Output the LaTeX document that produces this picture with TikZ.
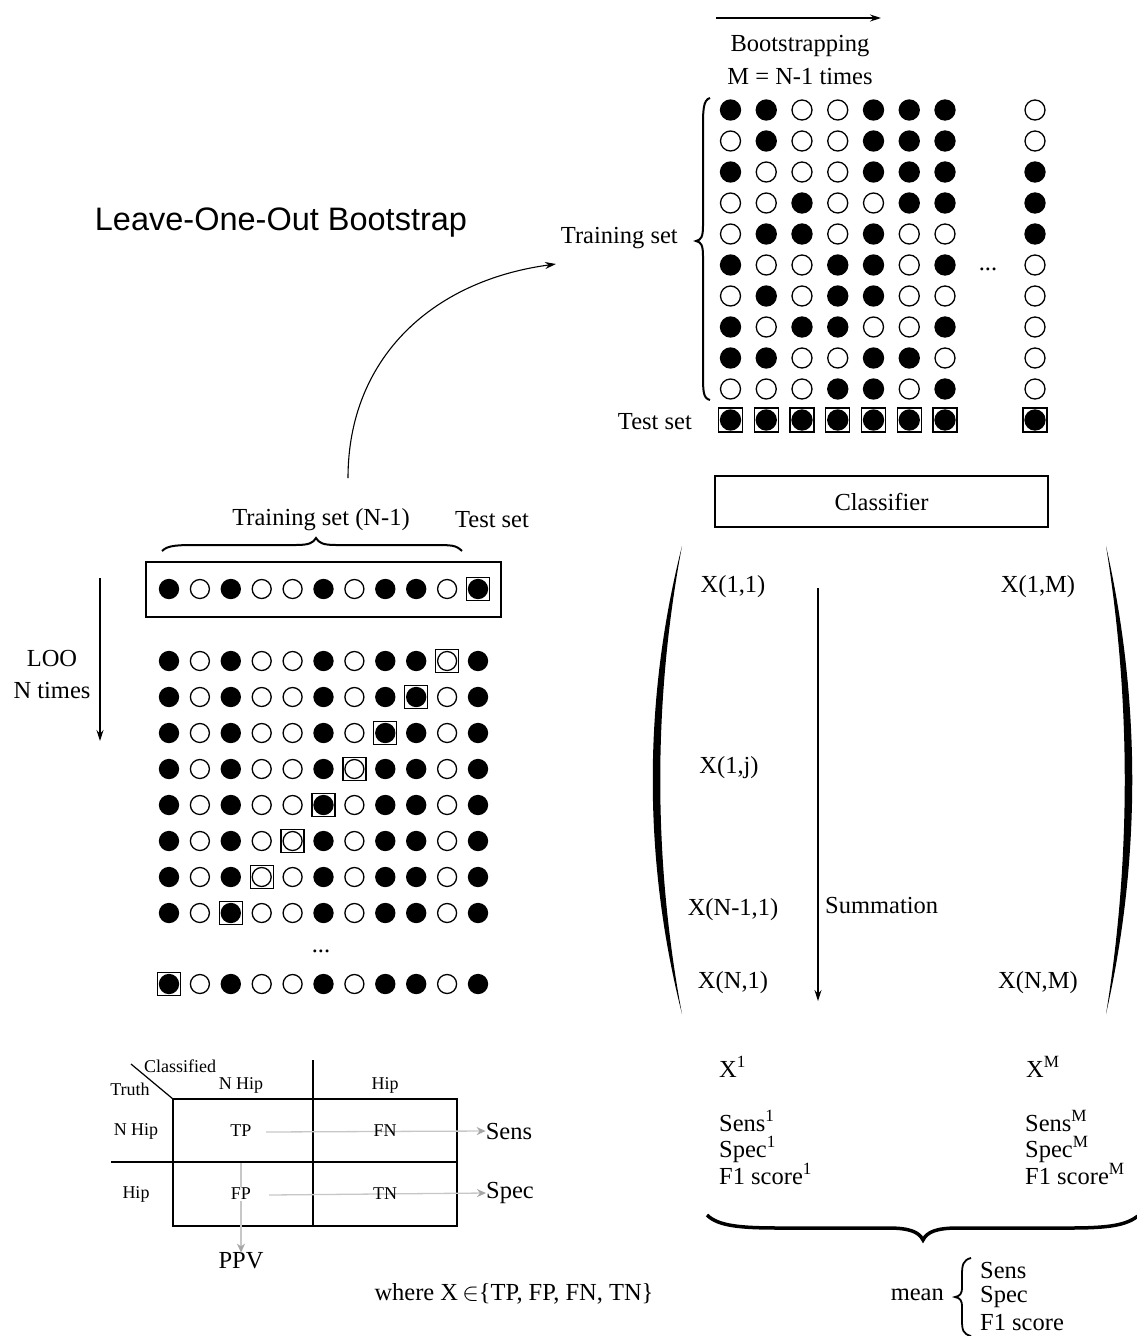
\documentclass[tikz,border=0pt]{standalone}
\usepackage{fontspec}
\setmainfont{Liberation Serif}
\newfontfamily\titlefont{Liberation Sans}
\usetikzlibrary{arrows.meta}
\begin{document}
\begin{tikzpicture}[x=1pt,y=-1pt,
  every node/.style={inner sep=0pt, font=\fontsize{24.5}{28}\selectfont},
  small/.style={font=\fontsize{18}{20}\selectfont},
  dotF/.style={circle, draw, fill=black, minimum size=20pt, line width=1.3pt},
  dotO/.style={circle, draw, fill=white, minimum size=20pt, line width=1.3pt},
  ldotF/.style={circle, draw, fill=black, minimum size=19pt, line width=1.3pt},
  ldotO/.style={circle, draw, fill=white, minimum size=19pt, line width=1.3pt},
  sqbox/.style={rectangle, draw, minimum size=24pt, line width=1.3pt},
  lsqbox/.style={rectangle, draw, minimum size=23pt, line width=1.3pt},
  arr/.style={line width=1.1pt, -{Stealth[length=11pt,width=7pt]}},
  grayarr/.style={draw=black!22, line width=1.3pt, -{Stealth[length=9pt,width=8pt,color=black!35]}},
  tline/.style={line width=1.4pt},
  bracepath/.style={line width=2pt},
]
\useasboundingbox (0,0) rectangle (1136,1336);

% ---------- Title ----------
\node (title) at (281,223) {\titlefont\fontsize{32.5}{36}\selectfont Leave-One-Out Bootstrap};

% ---------- Bootstrapping part ----------
\coordinate (ba1) at (716,18);
\coordinate (ba2) at (881,18);
\draw[arr] (ba1) -- (ba2);
\node (boot) at (800,46) {Bootstrapping};
\node (mtimes) at (800,77) {M = N-1 times};
\node[anchor=east] (trainB) at (678,238) {Training set};
\node[anchor=east] (testB) at (692,422) {Test set};

\draw[bracepath] (710,98) .. controls (703,100) and (703,110) .. (703,130) -- (703,226)
  .. controls (703,237) and (701,240) .. (696,241) .. controls (701,242) and (703,245) .. (703,256)
  -- (703,372) .. controls (703,392) and (703,398) .. (710,400);

\foreach \row [count=\r] in {
  {1,1,0,0,1,1,1,0},
  {0,1,0,0,1,1,1,0},
  {1,0,0,0,1,1,1,1},
  {0,0,1,0,0,1,1,1},
  {0,1,1,0,1,0,0,1},
  {1,0,0,1,1,0,1,0},
  {0,1,0,1,1,0,0,0},
  {1,0,1,1,0,0,1,0},
  {1,1,0,0,1,1,0,0},
  {0,0,0,1,1,0,1,0}} {
  \foreach \v [count=\c] in \row {
    \pgfmathsetmacro\xx{ifthenelse(\c<8,730.5+35.75*(\c-1),1035)}
    \pgfmathsetmacro\yy{110+31*(\r-1)}
    \ifnum\v=1
      \node[dotF] (b-\r-\c) at (\xx,\yy) {};
    \else
      \node[dotO] (b-\r-\c) at (\xx,\yy) {};
    \fi
  }
}
\foreach \c in {1,...,8} {
  \pgfmathsetmacro\xx{ifthenelse(\c<8,730.5+35.75*(\c-1),1035)}
  \node[sqbox] (tb-\c) at (\xx,420) {};
  \node[dotF] (td-\c) at (\xx,420) {};
}
\node[anchor=base] (bdots) at (988,270) {...};

\node[draw, line width=1.2pt, minimum width=333pt, minimum height=51pt] (clf) at (881.5,501.5) {Classifier};

% curved arrow
\coordinate (ca1) at (348,478);
\coordinate (ca2) at (556,264);
\draw[arr] (ca1) .. controls (348,360) and (430,281) .. (ca2);

% ---------- LOO part ----------
\node (trainL) at (321,520) {Training set (N-1)};
\node (testL) at (492,520) {Test set};
\draw[bracepath] (162,551) .. controls (168,545) and (178,545) .. (200,545) -- (296,545)
  .. controls (309,545) and (313,543) .. (316,538) .. controls (319,543) and (323,545) .. (336,545)
  -- (432,545) .. controls (452,545) and (456,545) .. (462,551);
\draw[line width=1.4pt] (146,562) rectangle (501,617);

\node (loo) at (52,658) {LOO};
\node (ntimes) at (52,690) {N times};
\coordinate (la1) at (100,578);
\coordinate (la2) at (100,741);
\draw[arr] (la1) -- (la2);

\foreach \r/\yy/\bc in {0/589/11, 1/661/10, 2/697/9, 3/733/8, 4/769/7, 5/805/6, 6/841/5, 7/877/4, 8/913/3, 9/984/1} {
  \foreach \v [count=\c] in {1,0,1,0,0,1,0,1,1,0,1} {
    \pgfmathsetmacro\xx{169+30.9*(\c-1)}
    \ifnum\c=\bc
      \node[lsqbox] (lb-\r-\c) at (\xx,\yy) {};
    \fi
    \ifnum\v=1
      \node[ldotF] (l-\r-\c) at (\xx,\yy) {};
    \else
      \node[ldotO] (l-\r-\c) at (\xx,\yy) {};
    \fi
  }
}
\node[anchor=base] (ldots) at (321,952) {...};

% ---------- Confusion table ----------
\draw[tline] (173,1099) rectangle (457,1226);
\draw[tline] (313,1060) -- (313,1226);
\draw[tline] (111,1162) -- (457,1162);
\draw[line width=1.2pt] (131,1064) -- (173,1099);
\node[small] (classified) at (180,1066) {Classified};
\node[small] (truth) at (130,1089) {Truth};
\node[small] (hN) at (241,1085) {N Hip};
\node[small] (hH) at (385,1085) {Hip};
\node[small] (rN) at (136,1131) {N Hip};
\node[small] (rH) at (136,1194) {Hip};
\node (sens) at (509,1131) {Sens};
\node (spec) at (510,1193) {Spec};
\node (ppv) at (241,1261) {PPV};
\coordinate (ppvstart) at (241,1163);
\draw[grayarr] (266,1132) -- (sens.west);
\draw[grayarr] (269,1195) -- (spec.west);
\draw[grayarr] (ppvstart) -- (ppv.north);
\node[small, fill=white, inner sep=1pt] (tp) at (241,1131) {TP};
\node[small] (fn) at (385,1131) {FN};
\node[small, fill=white, inner sep=1pt] (fp) at (241,1194) {FP};
\node[small] (tn) at (385,1194) {TN};
\node (where) at (514,1294) {where X\,$\in$\{TP, FP, FN, TN\}};

% ---------- Matrix ----------
\fill (682,546) .. controls (643,700) and (643,860) .. (682,1014)
   .. controls (653,860) and (653,700) .. (682,546);
\fill (1106,546) .. controls (1141,700) and (1141,860) .. (1106,1014)
   .. controls (1131,860) and (1131,700) .. (1106,546);
\node (x11) at (733,587) {X(1,1)};
\node (x1m) at (1038,587) {X(1,M)};
\node (x1j) at (729,768) {X(1,j)};
\node (xn11) at (733,910) {X(N-1,1)};
\node (xn1) at (733,983) {X(N,1)};
\node (xnm) at (1038,983) {X(N,M)};
\coordinate (sa1) at (818,588);
\coordinate (sa2) at (818,1001);
\draw[arr] (sa1) -- (sa2);
\node[anchor=west] (summ) at (825,905) {Summation};

% ---------- Results ----------
\node[anchor=base west] (X1) at (719,1077) {X\textsuperscript{1}};
\node[anchor=base west] (XM) at (1026,1077) {X\textsuperscript{M}};
\node[anchor=base west] (s1) at (719,1131) {Sens\textsuperscript{1}};
\node[anchor=base west] (p1) at (719,1157) {Spec\textsuperscript{1}};
\node[anchor=base west] (f1) at (719,1184) {F1 score\textsuperscript{1}};
\node[anchor=base west] (sM) at (1025,1131) {Sens\textsuperscript{M}};
\node[anchor=base west] (pM) at (1025,1157) {Spec\textsuperscript{M}};
\node[anchor=base west] (fM) at (1025,1184) {F1 score\textsuperscript{M}};

\draw[line width=3.5pt] (707,1215) .. controls (718,1226) and (740,1228) .. (780,1228) -- (888,1228)
  .. controls (910,1228) and (919,1232) .. (923,1240) .. controls (927,1232) and (936,1228) .. (958,1228)
  -- (1070,1228) .. controls (1110,1228) and (1126,1225) .. (1138,1216);

\node[anchor=east] (mean) at (944,1295) {mean};
\draw[line width=1.8pt] (971,1258) .. controls (963,1260) and (962,1265) .. (962,1275) -- (962,1287)
  .. controls (962,1294) and (960,1296) .. (955,1297) .. controls (960,1298) and (962,1300) .. (962,1307)
  -- (962,1320) .. controls (962,1330) and (963,1334) .. (971,1336);
\node[anchor=west] (msens) at (980,1270) {Sens};
\node[anchor=west] (mspec) at (980,1297) {Spec};
\node[anchor=west] (mf1) at (980,1323) {F1 score};
\end{tikzpicture}
\end{document}
